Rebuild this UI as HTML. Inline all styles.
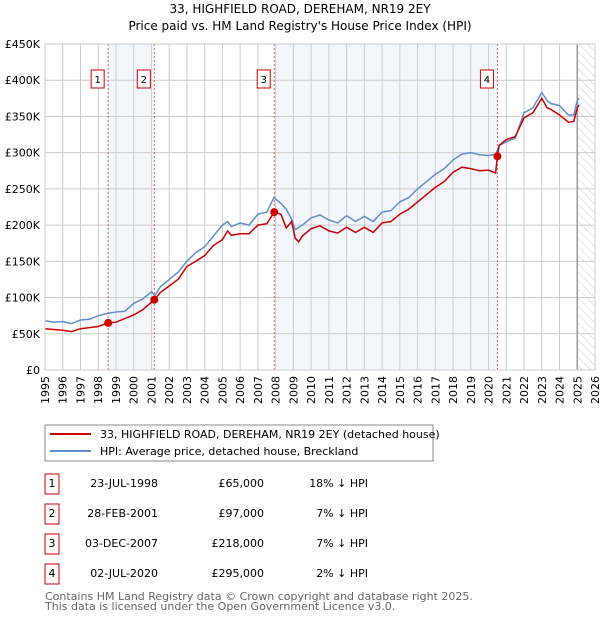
<!DOCTYPE html>
<html><head><meta charset="utf-8"><style>
body{margin:0;background:#fff;font-family:"DejaVu Sans","Liberation Sans",sans-serif;}
svg{display:block}
text{font-family:"DejaVu Sans","Liberation Sans",sans-serif;}
</style></head><body>
<svg id="c" width="600" height="620" viewBox="0 0 600 620">
<defs><pattern id="hatch" width="6" height="6" patternUnits="userSpaceOnUse" patternTransform="rotate(-45)"><line x1="0" y1="0" x2="0" y2="6" stroke="#ccc" stroke-width="1"/></pattern></defs>
<text x="300" y="13" text-anchor="middle" font-size="12">33, HIGHFIELD ROAD, DEREHAM, NR19 2EY</text>
<text x="300" y="30" text-anchor="middle" font-size="12">Price paid vs. HM Land Registry's House Price Index (HPI)</text>
<g id="plot"></g>
<rect x="45" y="425" width="388" height="36" fill="#fff" stroke="#888"/>
<line x1="50" y1="434" x2="91" y2="434" stroke="#cc0000" stroke-width="2"/>
<text x="100" y="438" font-size="11">33, HIGHFIELD ROAD, DEREHAM, NR19 2EY (detached house)</text>
<line x1="50" y1="451" x2="91" y2="451" stroke="#5f8fd0" stroke-width="2"/>
<text x="100" y="455" font-size="11">HPI: Average price, detached house, Breckland</text>
<g id="table"></g>
<text x="45" y="600" font-size="11" fill="#666">Contains HM Land Registry data © Crown copyright and database right 2025.</text>
<text x="45" y="610" font-size="11" fill="#666">This data is licensed under the Open Government Licence v3.0.</text>
</svg>
<script>
const hpiYears=[1995,1995.5,1996,1996.5,1997,1997.5,1998,1998.5,1999,1999.5,2000,2000.5,2001,2001.2,2001.5,2002,2002.5,2003,2003.5,2004,2004.5,2005,2005.3,2005.5,2006,2006.5,2007,2007.5,2007.9,2008.3,2008.6,2008.9,2009.1,2009.5,2010,2010.5,2011,2011.5,2012,2012.5,2013,2013.5,2014,2014.5,2015,2015.5,2016,2016.5,2017,2017.5,2018,2018.5,2019,2019.5,2020,2020.4,2020.6,2021,2021.5,2022,2022.5,2023,2023.3,2023.5,2024,2024.5,2024.8,2025.0,2025.1];
const hpiValues=[68,66,67,64,69,70,75,78,80,81,92,98,108,103,115,125,135,150,162,170,185,200,205,198,203,200,215,218,238,230,222,208,194,200,210,214,207,203,213,205,212,205,218,220,232,238,250,260,270,278,290,298,300,297,296,298,310,315,320,355,362,383,372,368,365,352,352,372,375];
const propYears=[1995,1996,1996.5,1997,1998,1998.56,1999,2000,2000.5,2001.16,2001.5,2002,2002.5,2003,2003.5,2004,2004.5,2005,2005.3,2005.5,2006,2006.5,2007,2007.5,2007.92,2008.3,2008.6,2008.9,2009.1,2009.3,2009.5,2010,2010.5,2011,2011.5,2012,2012.5,2013,2013.5,2014,2014.5,2015,2015.5,2016,2016.5,2017,2017.5,2018,2018.5,2019,2019.5,2020,2020.4,2020.5,2020.6,2021,2021.5,2022,2022.5,2023,2023.3,2023.5,2024,2024.5,2024.8,2025.0,2025.1];
const propValues=[57,55,53,57,60,65,66,76,83,97,107,116,125,143,150,158,172,180,192,186,188,188,200,202,218,215,196,205,182,177,185,195,199,192,189,197,190,197,190,203,205,215,222,232,242,252,260,273,280,278,275,276,272,295,310,318,322,348,355,375,362,360,352,342,343,362,366];
const saleYears=[1998.56,2001.16,2007.92,2020.5];
const saleValues=[65,97,218,295];
const saleLabels=["1","2","3","4"];
const saleDates=["23-JUL-1998","28-FEB-2001","03-DEC-2007","02-JUL-2020"];
const salePrices=["£65,000","£97,000","£218,000","£295,000"];
const saleDiffs=["18% ↓ HPI","7% ↓ HPI","7% ↓ HPI","2% ↓ HPI"];
const yTicks=[0,50,100,150,200,250,300,350,400,450];
const yTickLabels=["£0","£50K","£100K","£150K","£200K","£250K","£300K","£350K","£400K","£450K"];
const xTicks=[1995,1996,1997,1998,1999,2000,2001,2002,2003,2004,2005,2006,2007,2008,2009,2010,2011,2012,2013,2014,2015,2016,2017,2018,2019,2020,2021,2022,2023,2024,2025,2026];

const X0=45,X1=595,Y0=370,Y1=44;
const xs=y=>X0+(y-1995)/(2026-1995)*(X1-X0);
const ys=v=>Y0-v/450*(Y0-Y1);
const NS="http://www.w3.org/2000/svg";
function mk(tag,attrs,parent){const e=document.createElementNS(NS,tag);for(const k in attrs)e.setAttribute(k,attrs[k]);parent.appendChild(e);return e;}
const g=document.getElementById('plot');
for(let i=0;i<saleYears.length;i+=2){
  const r=mk('rect',{x:xs(saleYears[i]),y:Y1,width:xs(saleYears[i+1])-xs(saleYears[i]),height:Y0-Y1,fill:'#f3f6fd'},g);
  
  
}
const hr=mk('rect',{x:xs(2025.0),y:Y1,width:X1-xs(2025.0),height:Y0-Y1,fill:'url(#hatch)'},g);


xTicks.forEach(t=>{
  const l=mk('line',{x1:xs(t),x2:xs(t),y1:Y1,y2:Y0,stroke:'#ccc'},g);
  
  
  const tx=mk('text',{x:0,y:0,'font-size':11,'text-anchor':'end',transform:`translate(${xs(t)+4},${Y0+6}) rotate(-90)`},g);
  tx.textContent=t;
  
  
});
yTicks.forEach((t,i)=>{
  const l=mk('line',{x1:X0,x2:X1,y1:ys(t),y2:ys(t),stroke:'#ccc'},g);
  
  
  const tx=mk('text',{x:X0-5,y:ys(t)+4,'font-size':11,'text-anchor':'end'},g);
  tx.textContent=yTickLabels[i];
  
  
});
const vl=mk('line',{x1:xs(2025.0),x2:xs(2025.0),y1:Y1,y2:Y0,stroke:'#999','stroke-width':1.5},g);


saleYears.forEach((s,i)=>{
  const l=mk('line',{x1:xs(s),x2:xs(s),y1:Y1,y2:Y0,stroke:'#e06060','stroke-dasharray':'2,2'},g);
  
  
});
function path(xa,va,color,name){
  const d=xa.map((x,i)=>(i?'L':'M')+xs(x).toFixed(1)+','+ys(va[i]).toFixed(1)).join('');
  const p=mk('path',{d:d,fill:'none',stroke:color,'stroke-width':1.5},g);
  
  
}
path(hpiYears,hpiValues,'#5f8fd0','hpi-line');
path(propYears,propValues,'#cc0000','property-line');
saleYears.forEach((s,i)=>{
  const c=mk('circle',{cx:xs(s),cy:ys(saleValues[i]),r:4,fill:'#cc0000'},g);
  
  
  const b=mk('rect',{x:xs(s)-17,y:70,width:13,height:18,fill:'#fff',stroke:'#cc0000'},g);
  
  
  const t=mk('text',{x:xs(s)-10.5,y:83,'font-size':10,'text-anchor':'middle'},g);
  t.textContent=saleLabels[i];
  
  
});
const fr=mk('rect',{x:X0,y:Y1,width:X1-X0,height:Y0-Y1,fill:'none',stroke:'#ccc'},g);


const tb=document.getElementById('table');
saleLabels.forEach((l,i)=>{
  const cy=483+i*30;
  const b=mk('rect',{x:45,y:cy-9,width:14,height:20,fill:'#fff',stroke:'#cc0000'},tb);
  
  
  const cols=[[52,'middle',l,'table-row-number'],[158,'end',saleDates[i],'table-date'],[264,'end',salePrices[i],'table-price'],[368,'end',saleDiffs[i],'table-hpi-diff']];
  cols.forEach(c=>{
    const t=mk('text',{x:c[0],y:cy+4,'font-size':11,'text-anchor':c[1]},tb);
    t.textContent=c[2];
    
    
  });
});
</script>
</body></html>
